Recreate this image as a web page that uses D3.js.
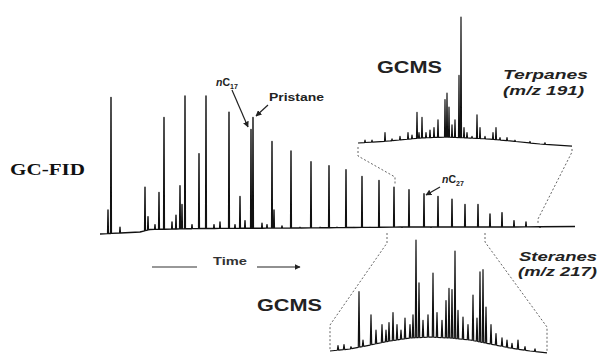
<!DOCTYPE html>
<html>
<head>
<meta charset="utf-8">
<script src="https://cdn.jsdelivr.net/npm/d3@7"></script>
<style>
  body { margin: 0; background: #fff; }
  svg text { font-family: "Liberation Sans", Arial, sans-serif; font-weight: bold; fill: #222; }
</style>
</head>
<body>
<div id="chart"></div>
<script>
// GC-FID whole oil trace (retention time, relative intensity)
var fidTimes = [0.8, 1.1, 2.0, 4.5, 4.8, 5.5, 5.9, 6.4, 7.2, 7.6, 8.0, 8.2, 8.5, 9.2, 9.9, 10.6, 11.4, 12.0,
  12.9, 13.5, 14.0, 14.5, 15.1, 15.3, 16.2, 16.7, 17.2, 17.4, 18.2, 19.1, 20.0, 21.1, 22.0, 22.9, 23.7,
  24.6, 25.4, 26.2, 27.0, 27.9, 29.4, 30.2, 30.9, 32.4, 33.1, 33.8, 35.2, 36.5, 37.8, 39.0, 40.2, 41.4, 42.6, 44.0];
var fidHeights = [15, 99, 2, 32, 10, 4, 28, 84, 6, 11, 33, 19, 100, 4, 57, 100, 4, 6,
  88, 4, 25, 7, 75, 84, 5, 4, 66, 15, 3, 59, 2, 51, 2, 48, 2,
  45, 2, 40, 2, 37, 32, 2, 30, 27, 2, 25, 23, 19, 19, 12, 13, 7, 6, 2];
var fidBaseTimes = [0, 2, 4, 5, 10, 20, 30, 40, 47.5];
var fidBaseLevels = [-3, -2.2, -1.5, 0.4, 1.1, 1.5, 2.2, 2.2, 2.6];

// GCMS terpanes, m/z 191
var terTimes = [0.7, 1.4, 2.7, 3.4, 4.2, 5.0, 5.4, 5.9, 6.1, 6.4, 6.8, 7.2, 7.6, 8.0, 8.7, 8.9, 9.1, 9.4,
  9.7, 10.1, 10.3, 10.6, 10.9, 11.4, 11.9, 12.2, 12.7, 13.5, 13.8, 14.2, 14.9, 15.7, 17.2, 18.7];
var terHeights = [3, 3, 9, 4, 6, 9, 7, 25, 9, 21, 9, 11, 13, 19, 35, 40, 29, 15,
  19, 54, 100, 13, 9, 6, 23, 13, 6, 9, 13, 5, 5, 3, 2, 1];
var terBaseTimes = [0, 3.2, 6.2, 8.7, 11.2, 13.2, 15.2, 18.2, 21.4];
var terBaseLevels = [0.8, 2.4, 4.7, 5.5, 4.7, 3.9, 2.4, 0, -1.6];

// GCMS steranes, m/z 217
var steTimes = [0.8, 1.4, 2.1, 2.9, 3.3, 4.1, 4.6, 5.2, 5.6, 5.9, 6.3, 6.7, 7.1, 7.5, 8.0, 8.3, 8.6, 8.9,
  9.3, 9.8, 10.3, 10.7, 11.2, 11.6, 11.9, 12.2, 12.5, 12.8, 13.3, 13.8, 14.3, 14.7, 15.0, 15.3, 15.6,
  16.1, 16.6, 17.2, 17.7, 18.2, 18.8, 19.5, 20.5];
var steHeights = [4, 5, 3, 53, 9, 32, 18, 23, 18, 25, 34, 23, 18, 29, 23, 32, 100, 61,
  27, 32, 70, 34, 27, 45, 56, 55, 90, 36, 30, 23, 50, 29, 71, 73, 39,
  23, 15, 11, 9, 6, 9, 3, 1];
var steBaseTimes = [0, 2, 4, 6, 8, 10, 12, 14, 16, 18, 20, 21.7];
var steBaseLevels = [-0.9, 0.9, 4.5, 8.2, 10.9, 11.8, 10.9, 9.1, 5.5, 1.8, -0.9, -2.7];

// parts of the FID run that the GCMS traces blow up
var terWindow = [29.5, 43.8];
var steWindow = [28.7, 38.5];

var width = 600, height = 356;

var svg = d3.select('#chart').append('svg')
  .attr('width', width)
  .attr('height', height);

var defs = svg.append('defs');
defs.append('marker')
  .attr('id', 'head')
  .attr('viewBox', '0 0 10 10')
  .attr('refX', 9).attr('refY', 5)
  .attr('markerWidth', 6).attr('markerHeight', 6)
  .attr('markerUnits', 'userSpaceOnUse')
  .attr('orient', 'auto')
  .append('path')
  .attr('d', 'M0,0 L10,5 L0,10 z')
  .attr('fill', '#222');

var xFid = d3.scaleLinear().domain([0, 47.5]).range([100, 575]);
var yFid = d3.scaleLinear().domain([0, 100]).range([230, 96]);
var xTer = d3.scaleLinear().domain([0, 21.4]).range([358, 572]);
var yTer = d3.scaleLinear().domain([0, 100]).range([144, 17]);
var xSte = d3.scaleLinear().domain([0, 21.7]).range([330, 547]);
var ySte = d3.scaleLinear().domain([0, 100]).range([350, 240]);

// build a chromatogram: baseline knots plus a narrow spike for every peak
function trace(times, heights, baseTimes, baseLevels, w) {
  var base = d3.scaleLinear().domain(baseTimes).range(baseLevels).clamp(true);
  var pts = baseTimes.filter(function (t) {
    return !times.some(function (p) { return Math.abs(p - t) <= w; });
  }).map(function (t) { return [t, base(t)]; });
  times.forEach(function (t, i) {
    pts.push([t - w, base(t - w)]);
    pts.push([t, heights[i]]);
    pts.push([t + w, base(t + w)]);
  });
  pts.sort(function (a, b) { return a[0] - b[0]; });
  return pts;
}

function drawTrace(pts, x, y, sw) {
  svg.append('path')
    .datum(pts)
    .attr('fill', 'none')
    .attr('stroke', '#111')
    .attr('stroke-width', sw)
    .attr('stroke-linejoin', 'round')
    .attr('d', d3.line().x(function (d) { return x(d[0]); }).y(function (d) { return y(d[1]); }));
}

drawTrace(trace(fidTimes, fidHeights, fidBaseTimes, fidBaseLevels, 0.04), xFid, yFid, 1.4);
drawTrace(trace(terTimes, terHeights, terBaseTimes, terBaseLevels, 0.05), xTer, yTer, 1.2);
drawTrace(trace(steTimes, steHeights, steBaseTimes, steBaseLevels, 0.07), xSte, ySte, 1.2);

// dashed zoom connectors
var dash = function (pts) {
  svg.append('path')
    .attr('d', d3.line()(pts))
    .attr('fill', 'none')
    .attr('stroke', '#666')
    .attr('stroke-width', 1)
    .attr('stroke-dasharray', '2,2');
};
dash([[xTer(0), 147], [xTer(0), 156], [xFid(terWindow[0]), 177], [xFid(terWindow[0]), 184]]);
dash([[xTer(21.4), 149], [xTer(21.4), 152], [xFid(terWindow[1]), 219], [xFid(terWindow[1]), 224]]);
dash([[xFid(steWindow[0]), 233], [xFid(steWindow[0]), 243], [xSte(0), 325], [xSte(0), 350]]);
dash([[xFid(steWindow[1]), 233], [xFid(steWindow[1]), 242], [xSte(21.7), 327], [xSte(21.7), 352]]);

// labels
function label(txt, x, y, size, len, opts) {
  opts = opts || {};
  var t = svg.append('text')
    .attr('x', x).attr('y', y)
    .style('font-size', size + 'px')
    .text(txt);
  if (len) t.attr('textLength', len).attr('lengthAdjust', 'spacingAndGlyphs');
  if (opts.italic) t.style('font-style', 'italic');
  if (opts.serif) t.style('font-family', '"Liberation Serif", "Times New Roman", serif').style('fill', '#111');
  return t;
}

label('GC-FID', 10, 175, 17.5, 75, { serif: true });
label('GCMS', 377, 73, 16, 65);
label('GCMS', 257, 311, 16, 65);
label('Terpanes', 503, 79, 13, 85, { italic: true });
label('(m/z 191)', 503, 95, 13, 81, { italic: true });
label('Steranes', 519, 261, 13, 78, { italic: true });
label('(m/z 217)', 518, 276, 13, 79, { italic: true });
label('Time', 213, 265, 11, 34).style('fill', '#333');
label('Pristane', 269, 101, 10.5, 55);

function nLabel(num, x, y) {
  var t = svg.append('text').attr('x', x).attr('y', y).style('font-size', '10.5px');
  t.append('tspan').style('font-style', 'italic').text('n');
  t.append('tspan').text('C');
  t.append('tspan').attr('dy', 3).style('font-size', '7px').text(num);
}
nLabel('17', 216, 86);
nLabel('27', 442, 183);

function arrow(x1, y1, x2, y2, sw) {
  svg.append('line')
    .attr('x1', x1).attr('y1', y1).attr('x2', x2).attr('y2', y2)
    .attr('stroke', '#222').attr('stroke-width', sw || 1.2)
    .attr('marker-end', 'url(#head)');
}
arrow(232, 90, 248, 127);
arrow(268, 105, 256, 116);
arrow(440, 187, 426, 195);

// time arrow
svg.append('line').attr('x1', 152).attr('y1', 267).attr('x2', 197).attr('y2', 267)
  .attr('stroke', '#333').attr('stroke-width', 1.2);
arrow(257, 267, 300, 267, 1.2);
</script>
</body>
</html>
